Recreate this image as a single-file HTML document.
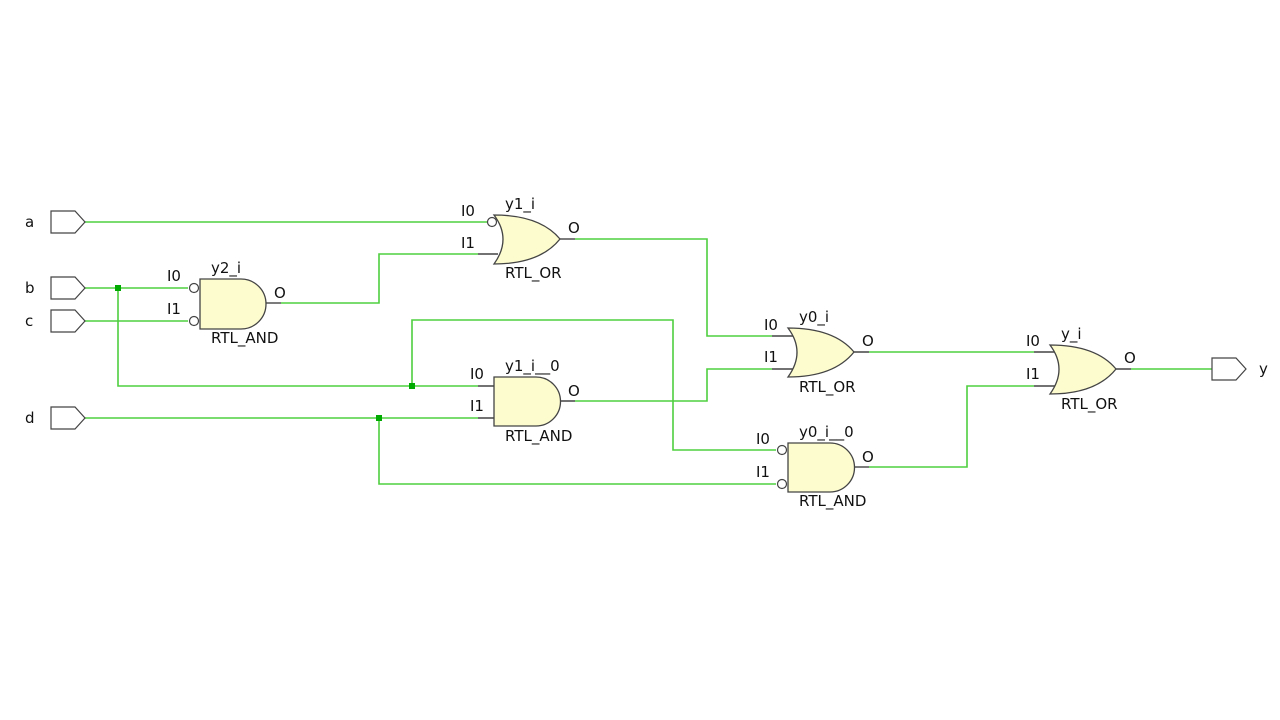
<!DOCTYPE html>
<html><head><meta charset="utf-8"><style>
html,body{margin:0;padding:0;background:#fff;width:1280px;height:720px;overflow:hidden}
text{font-family:"DejaVu Sans","Liberation Sans",sans-serif;font-size:15px;fill:#111}
</style></head><body>
<svg width="1280" height="720" viewBox="0 0 1280 720" xmlns="http://www.w3.org/2000/svg">
<g fill="none" stroke="#4fcf3f" stroke-width="1.6">
<path d="M85 222 H487"/>
<path d="M85 288 H188"/>
<path d="M118 288 V386 H478"/>
<path d="M85 321 H188"/>
<path d="M85 418 H478"/>
<path d="M379 418 V484 H776"/>
<path d="M412 386 V320 H673 V450 H776"/>
<path d="M281 303 H379 V254 H478"/>
<path d="M575 239 H707 V336 H772"/>
<path d="M575 401 H707 V369 H772"/>
<path d="M869 352 H1034"/>
<path d="M869 467 H967 V386 H1034"/>
<path d="M1131 369 H1212"/>
</g>
<g fill="#0a0">
<rect x="115" y="285" width="6" height="6"/>
<rect x="409" y="383" width="6" height="6"/>
<rect x="376" y="415" width="6" height="6"/>
</g>
<g fill="#fff" stroke="#444" stroke-width="1.2">
<path d="M51 211 H75 L85 222 L75 233 H51 Z"/>
<path d="M51 277 H75 L85 288 L75 299 H51 Z"/>
<path d="M51 310 H75 L85 321 L75 332 H51 Z"/>
<path d="M51 407 H75 L85 418 L75 429 H51 Z"/>
<path d="M1212 358 H1236 L1246 369 L1236 380 H1212 Z"/>
</g>
<text x="25" y="227">a</text>
<text x="25" y="293">b</text>
<text x="25" y="326">c</text>
<text x="25" y="423">d</text>
<text x="1259" y="374">y</text>
<g stroke="#444" stroke-width="1.4" fill="none">
<path d="M266 303 H281"/>
<path d="M478 254 H498"/><path d="M560 239 H575"/>
<path d="M478 386 H494 M478 418 H494 M560 401 H575"/>
<path d="M772 336 H795 M772 369 H795 M854 352 H869"/>
<path d="M854 467 H869"/>
<path d="M1034 352 H1057 M1034 386 H1057 M1116 369 H1131"/>
</g>
<g fill="#fdfcce" stroke="#444" stroke-width="1.3">
<path d="M200 279 H241 A25 25 0 0 1 241 329 H200 Z"/>
<path d="M494 377 H536 A24.5 24.5 0 0 1 536 426 H494 Z"/>
<path d="M788 443 H830 A24.5 24.5 0 0 1 830 492 H788 Z"/>
<path d="M494 215 Q540 215 560 239 Q540 264 494 264 Q512 239 494 215 Z"/>
<path d="M788 328 Q834 328 854 352 Q834 377 788 377 Q806 352 788 328 Z"/>
<path d="M1050 345 Q1096 345 1116 369 Q1096 394 1050 394 Q1068 369 1050 345 Z"/>
</g>
<g fill="#fff" stroke="#444" stroke-width="1.2">
<circle cx="194" cy="288" r="4.5"/>
<circle cx="194" cy="321" r="4.5"/>
<circle cx="492" cy="222" r="4.5"/>
<circle cx="782" cy="450" r="4.5"/>
<circle cx="782" cy="484" r="4.5"/>
</g>
<text x="167" y="281">I0</text><text x="167" y="314">I1</text>
<text x="211" y="273">y2_i</text><text x="274" y="298">O</text><text x="211" y="343">RTL_AND</text>

<text x="461" y="216">I0</text><text x="461" y="248">I1</text>
<text x="505" y="209">y1_i</text><text x="568" y="233">O</text><text x="505" y="278">RTL_OR</text>

<text x="470" y="379">I0</text><text x="470" y="411">I1</text>
<text x="505" y="371">y1_i__0</text><text x="568" y="396">O</text><text x="505" y="441">RTL_AND</text>

<text x="764" y="330">I0</text><text x="764" y="362">I1</text>
<text x="799" y="322">y0_i</text><text x="862" y="346">O</text><text x="799" y="392">RTL_OR</text>

<text x="756" y="444">I0</text><text x="756" y="477">I1</text>
<text x="799" y="437">y0_i__0</text><text x="862" y="462">O</text><text x="799" y="506">RTL_AND</text>

<text x="1026" y="346">I0</text><text x="1026" y="379">I1</text>
<text x="1061" y="339">y_i</text><text x="1124" y="363">O</text><text x="1061" y="409">RTL_OR</text>
</svg>
</body></html>
